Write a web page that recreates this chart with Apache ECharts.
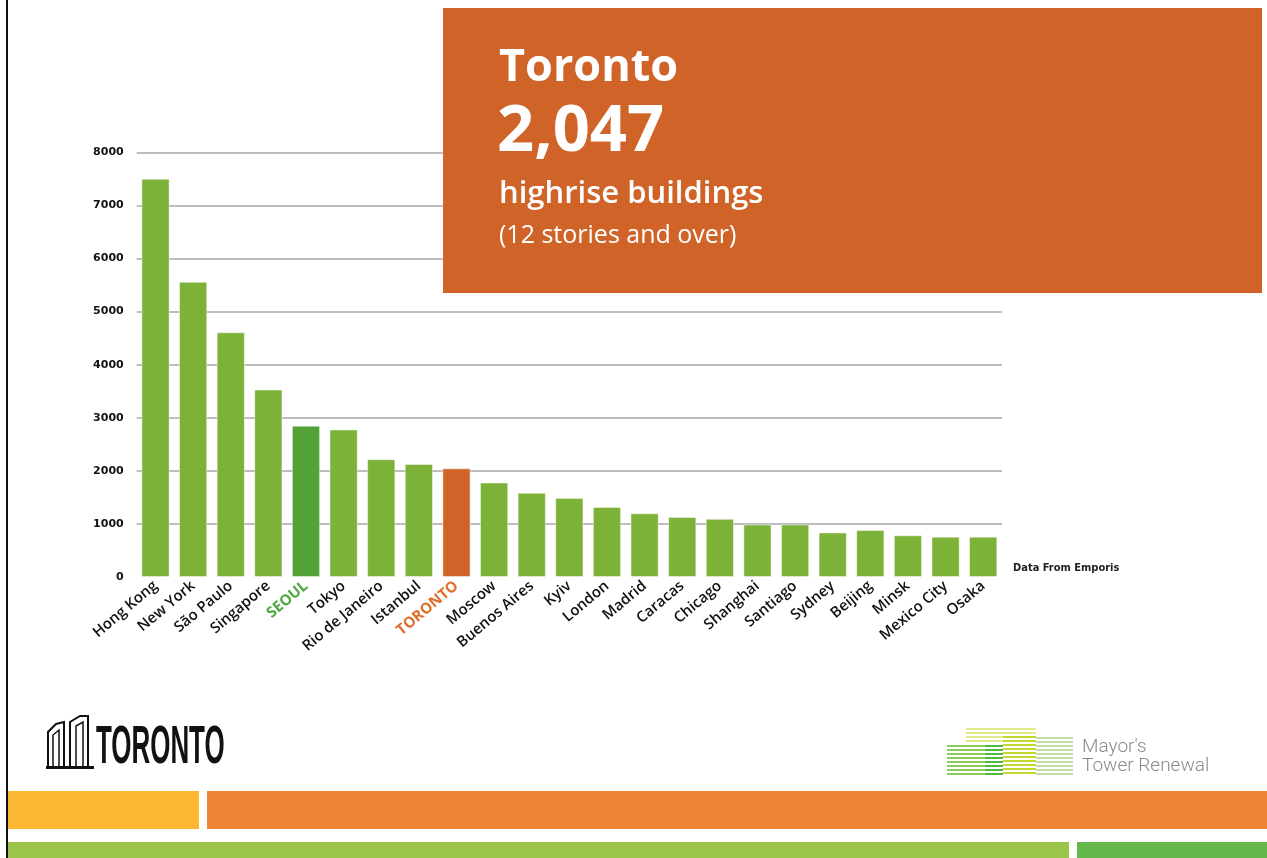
<!DOCTYPE html>
<html>
<head>
<meta charset="utf-8">
<script src="https://cdn.jsdelivr.net/npm/echarts@6/dist/echarts.min.js"></script>
<style>
  html, body { margin: 0; padding: 0; background: #fff; }
  #chart { width: 1267px; height: 858px; }
</style>
</head>
<body>
<div id="chart"></div>
<script>
// highrise buildings (12 stories and over), data from Emporis
const cities = [
  "Hong Kong", "New York", "São Paulo", "Singapore", "SEOUL", "Tokyo",
  "Rio de Janeiro", "Istanbul", "TORONTO", "Moscow", "Buenos Aires", "Kyiv",
  "London", "Madrid", "Caracas", "Chicago", "Shanghai", "Santiago",
  "Sydney", "Beijing", "Minsk", "Mexico City", "Osaka"
];
const buildings = [
  7500, 5560, 4610, 3530, 2850, 2780,
  2220, 2130, 2047, 1780, 1585, 1490,
  1320, 1200, 1130, 1095, 990, 990,
  840, 885, 785, 760, 760
];
const yTicks = [0, 1000, 2000, 3000, 4000, 5000, 6000, 7000, 8000];

const GREEN = "#7db238";
const highlight = {
  SEOUL: { bar: "#52a238", label: "#4fa83d" },
  TORONTO: { bar: "#d06428", label: "#e06e2a" }
};

const chart = echarts.init(document.getElementById("chart"));

// stripes for the Mayor's Tower Renewal mark
function stripes(x0, x1, y0, y1, color) {
  const out = [];
  for (let y = y0; y < y1; y += 4) {
    out.push({
      type: "rect",
      shape: { x: x0, y: y, width: x1 - x0, height: 2 },
      style: { fill: color }
    });
  }
  return out;
}

const logoStripes = [].concat(
  stripes(966, 1036, 728, 744, "#e4ea8c"),
  stripes(947, 985, 745, 774, "#8fcb5a"),
  stripes(985, 1003, 745, 774, "#4db848"),
  stripes(1003, 1036, 736, 774, "#c4d72e"),
  stripes(1036, 1073, 737, 774, "#c3dea0")
);

const option = {
  backgroundColor: "#fff",
  animation: false,
  grid: { left: 136.7, right: 265, top: 152.3, bottom: 281, containLabel: false },
  xAxis: {
    type: "category",
    data: cities.map(c => ({
      value: c,
      textStyle: highlight[c] ? { color: highlight[c].label, fontWeight: 700 } : {}
    })),
    axisLine: { show: false },
    axisTick: { show: false },
    axisLabel: {
      interval: 0,
      rotate: 40,
      margin: 7,
      color: "#111",
      fontFamily: "Open Sans",
      fontWeight: 600,
      fontSize: 15
    }
  },
  yAxis: {
    type: "value",
    min: yTicks[0],
    max: yTicks[yTicks.length - 1],
    interval: 1000,
    axisLine: { show: false },
    axisTick: { show: false },
    axisLabel: {
      formatter: v => String(v),
      color: "#111",
      fontFamily: "DejaVu Sans",
      fontWeight: "bold",
      fontSize: 11,
      margin: 13,
      verticalAlign: "middle",
      padding: [0, 0, 20, 0]
    },
    splitLine: {
      lineStyle: {
        color: yTicks.map((t, i) => (i === 0 ? "rgba(0,0,0,0)" : "#bdbdbd")),
        width: 2
      }
    }
  },
  series: [{
    type: "bar",
    barCategoryGap: "25%",
    data: buildings.map((v, i) => ({
      value: v,
      itemStyle: { color: highlight[cities[i]] ? highlight[cities[i]].bar : GREEN }
    })),
    itemStyle: { borderColor: "rgba(255,255,255,0.45)", borderWidth: 1 }
  }],
  graphic: [
    // left frame line
    { type: "rect", z: 100, shape: { x: 6, y: 0, width: 2, height: 858 }, style: { fill: "#111" } },
    // orange call-out
    { type: "rect", z: 100, shape: { x: 443, y: 8, width: 819, height: 285 }, style: { fill: "#d06428" } },
    { type: "text", z: 101, style: { x: 499, y: 68, text: "Toronto", fill: "#fff",
        font: "bold 45px 'Open Sans'", verticalAlign: "middle" } },
    { type: "text", z: 101, style: { x: 497, y: 132, text: "2,047", fill: "#fff",
        font: "bold 65px 'Open Sans'", verticalAlign: "middle" } },
    { type: "text", z: 101, style: { x: 499, y: 194, text: "highrise buildings", fill: "#fff",
        font: "600 31px 'Open Sans'", verticalAlign: "middle" } },
    { type: "text", z: 101, style: { x: 499, y: 236, text: "(12 stories and over)", fill: "#fff",
        font: "25px 'Open Sans'", verticalAlign: "middle" } },
    // source note
    { type: "text", z: 100, style: { x: 1013, y: 568, text: "Data From Emporis", fill: "#222",
        font: "600 11px 'DejaVu Sans Condensed'", verticalAlign: "middle" } },
    // Toronto logo
    { type: "polyline", z: 100, shape: { points: [[48, 768], [48, 732], [56, 724], [64, 722], [64, 768]] },
      style: { stroke: "#111", lineWidth: 2, fill: null } },
    { type: "polyline", z: 100, shape: { points: [[70, 768], [70, 722], [80, 716], [88, 716], [88, 768]] },
      style: { stroke: "#111", lineWidth: 2, fill: null } },
    { type: "polyline", z: 100, shape: { points: [[53, 768], [53, 735], [59, 730], [59, 768]] },
      style: { stroke: "#111", lineWidth: 1.5, fill: null } },
    { type: "polyline", z: 100, shape: { points: [[76, 768], [76, 726], [83, 722], [83, 768]] },
      style: { stroke: "#111", lineWidth: 1.5, fill: null } },
    { type: "rect", z: 100, shape: { x: 46, y: 766, width: 48, height: 3 }, style: { fill: "#111" } },
    { type: "text", z: 100, x: 96, y: 748, scaleX: 0.48,
      style: { x: 0, y: 0, text: "TORONTO", fill: "#111",
        font: "bold 54px 'Liberation Sans'", verticalAlign: "middle" } },
    // Mayor's Tower Renewal logo
    { type: "group", z: 100, children: logoStripes },
    { type: "text", z: 100, style: { x: 1082, y: 747, text: "Mayor's", fill: "#8a8a8a",
        font: "300 19px Roboto", verticalAlign: "middle" } },
    { type: "text", z: 100, style: { x: 1082, y: 766, text: "Tower Renewal", fill: "#8a8a8a",
        font: "300 19px Roboto", verticalAlign: "middle" } },
    // footer bars
    { type: "rect", z: 100, shape: { x: 8, y: 791, width: 191, height: 38 }, style: { fill: "#fdb833" } },
    { type: "rect", z: 100, shape: { x: 207, y: 791, width: 1060, height: 38 }, style: { fill: "#ee8636" } },
    { type: "rect", z: 100, shape: { x: 8, y: 842, width: 1061, height: 16 }, style: { fill: "#9bc54a" } },
    { type: "rect", z: 100, shape: { x: 1077, y: 842, width: 190, height: 16 }, style: { fill: "#65b84c" } }
  ]
};

chart.setOption(option);
</script>
</body>
</html>
